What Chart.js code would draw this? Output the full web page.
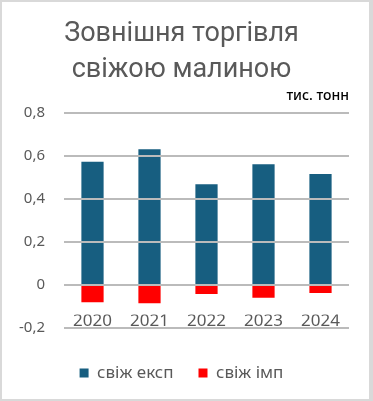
<!DOCTYPE html>
<html>
<head>
<meta charset="utf-8">
<script src="https://cdn.jsdelivr.net/npm/chart.js@4"></script>
<style>
  html, body { margin: 0; padding: 0; background: #fff; }
  #frame { position: absolute; left: 0; top: 0; width: 373px; height: 401px; box-sizing: border-box;
           border-style: solid; border-color: #d9d9d9; border-width: 2px 4px 2px 2px; background: #fff; }
  canvas { display: block; }
</style>
</head>
<body>
<div id="frame"><canvas id="c" width="367" height="397"></canvas></div>
<script>
const categories = ['2020', '2021', '2022', '2023', '2024'];
const exportValues = [0.572, 0.631, 0.468, 0.561, 0.515];
const importValues = [-0.080, -0.085, -0.042, -0.060, -0.037];
const seriesNames = ['свіж експ', 'свіж імп'];
const titleLines = ['Зовнішня торгівля', 'свіжою малиною'];
const unitLabel = 'тис. тонн';

const FONT = "'Noto Sans', 'Open Sans', sans-serif";
const TFONT = "Roboto, 'Noto Sans', sans-serif";
const GRAY = '#595959';

// empty layout box that keeps a gap between the x axis and the legend
const spacer = {
  id: 'spacer',
  beforeInit(chart) {
    const box = {
      position: 'bottom', weight: 500, fullSize: true, options: {},
      width: 0, height: 0, left: 0, top: 0, right: 0, bottom: 0,
      isHorizontal() { return true; },
      update(maxWidth) { this.width = maxWidth; this.height = 25; return { width: maxWidth, height: 25 }; },
      draw() {}
    };
    Chart.layouts.addBox(chart, box);
  }
};

new Chart(document.getElementById('c'), {
  type: 'bar',
  plugins: [spacer],
  data: {
    labels: categories,
    datasets: [
      { label: seriesNames[0], data: exportValues, backgroundColor: '#175e80', borderWidth: 0 },
      { label: seriesNames[1], data: importValues, backgroundColor: '#ff0000', borderWidth: 0 }
    ]
  },
  options: {
    responsive: false,
    animation: false,
    layout: { padding: { left: 12, right: 20, top: 0, bottom: -6 } },
    datasets: { bar: { categoryPercentage: 1, barPercentage: 0.39 } },
    plugins: {
      title: {
        display: true, text: titleLines, color: GRAY,
        font: { family: TFONT, size: 27, weight: 'normal', lineHeight: 1.333 },
        padding: { top: 14, bottom: 0 }
      },
      subtitle: {
        display: true, text: unitLabel, color: '#000', align: 'end',
        font: { family: FONT, size: 14, weight: '500', lineHeight: 1.2 },
        padding: { top: 0, bottom: 8 }
      },
      legend: {
        position: 'bottom',
        labels: {
          color: GRAY, boxWidth: 9, boxHeight: 9, padding: 25,
          font: { family: FONT, size: 17 }
        }
      },
      tooltip: { enabled: false }
    },
    scales: {
      x: {
        stacked: true,
        grid: { display: false, drawTicks: false },
        border: { display: false },
        ticks: { color: GRAY, font: { family: FONT, size: 17 }, padding: -17 }
      },
      y: {
        stacked: true, min: -0.2, max: 0.8,
        afterFit: (s) => { s.width = 50; },
        grid: { color: '#bbbbbb', lineWidth: 2, drawTicks: false, z: 1 },
        border: { display: false },
        ticks: {
          stepSize: 0.2, color: GRAY, padding: 19,
          font: { family: FONT, size: 15 },
          callback: (v) => { const r = Math.round(v * 10) / 10; return r === 0 ? '0' : r.toFixed(1).replace('.', ','); }
        }
      }
    }
  }
});
</script>
</body>
</html>
